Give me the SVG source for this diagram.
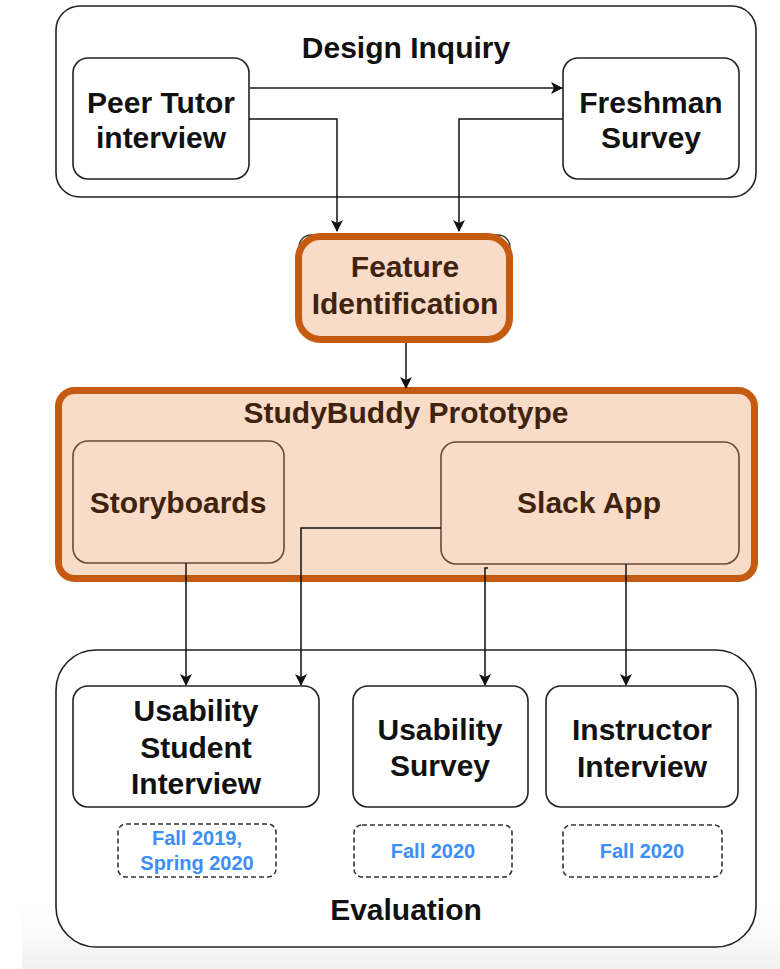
<svg xmlns="http://www.w3.org/2000/svg" width="780" height="969" viewBox="0 0 780 969">
  <defs>
    <linearGradient id="floorShade" x1="0" y1="0" x2="0" y2="1">
      <stop offset="0" stop-color="#ffffff"/>
      <stop offset="0.5" stop-color="#fbfbfb"/>
      <stop offset="1" stop-color="#f0f0f0"/>
    </linearGradient>
    <marker id="arrow" viewBox="0 0 12 12" refX="11" refY="6" markerWidth="12" markerHeight="12" markerUnits="userSpaceOnUse" orient="auto">
      <path d="M0,0 L12,6 L0,12 L3,6 z" fill="#111"/>
    </marker>
  </defs>
  <style>
    .lbl { font-family: "Liberation Sans", Arial, Helvetica, sans-serif; font-weight: bold; font-size: 30px; fill: #111; text-anchor: middle; }
    .brown { fill: #40230f; }
    .date { font-family: "Liberation Sans", Arial, Helvetica, sans-serif; font-weight: bold; font-size: 20px; fill: #3d8ef5; text-anchor: middle; }
    .group { fill: #ffffff; stroke: #222; stroke-width: 1.6; }
    .node { fill: #ffffff; stroke: #222; stroke-width: 1.6; }
    .hl { fill: #f9dcc8; stroke: #c55a11; stroke-width: 7; }
    .inner { fill: #f9dcc8; stroke: #6a4a38; stroke-width: 1.6; }
    .dashed { fill: none; stroke: #333; stroke-width: 1.6; stroke-dasharray: 5 3; }
    .wire { fill: none; stroke: #111; stroke-width: 1.5; }
  </style>

  <rect width="780" height="969" fill="#ffffff"/>
  <rect x="22" y="900" width="758" height="69" fill="url(#floorShade)"/>

  <!-- Design Inquiry group -->
  <g id="design-inquiry">
    <rect class="group" x="56" y="6" width="700" height="191" rx="24"/>
    <text class="lbl" x="406" y="58">Design Inquiry</text>
  </g>
  <g id="peer-tutor">
    <rect class="node" x="73" y="58" width="176" height="121" rx="15"/>
    <text class="lbl" x="161" y="113">Peer Tutor</text>
    <text class="lbl" x="161" y="148">interview</text>
  </g>
  <g id="freshman-survey">
    <rect class="node" x="563" y="58" width="176" height="121" rx="15"/>
    <text class="lbl" x="651" y="113">Freshman</text>
    <text class="lbl" x="651" y="148">Survey</text>
  </g>

  <!-- Feature Identification -->
  <g id="feature-identification">
    <rect x="299" y="235" width="211" height="98" rx="12" fill="none" stroke="#333" stroke-width="1.4"/>
    <rect class="hl" x="298.5" y="236.5" width="211" height="103" rx="22"/>
    <text class="lbl brown" x="405" y="277">Feature</text>
    <text class="lbl brown" x="405" y="314">Identification</text>
  </g>

  <!-- StudyBuddy Prototype group -->
  <g id="studybuddy-prototype">
    <rect class="hl" x="58.5" y="390.5" width="696" height="188" rx="16"/>
    <text class="lbl brown" x="406" y="423">StudyBuddy Prototype</text>
  </g>
  <g id="storyboards">
    <rect class="inner" x="73" y="441" width="211" height="122" rx="15"/>
    <text class="lbl brown" x="178" y="513">Storyboards</text>
  </g>
  <g id="slack-app">
    <rect class="inner" x="441" y="442" width="298" height="122" rx="15"/>
    <text class="lbl brown" x="589" y="513">Slack App</text>
  </g>

  <!-- Evaluation group -->
  <g id="evaluation">
    <rect class="group" x="56" y="650" width="700" height="297" rx="40"/>
    <text class="lbl" x="406" y="920">Evaluation</text>
  </g>
  <g id="usability-student-interview">
    <rect class="node" x="73" y="686" width="246" height="121" rx="15"/>
    <text class="lbl" x="196" y="721">Usability</text>
    <text class="lbl" x="196" y="758">Student</text>
    <text class="lbl" x="196" y="794">Interview</text>
  </g>
  <g id="usability-survey">
    <rect class="node" x="353" y="686" width="175" height="121" rx="15"/>
    <text class="lbl" x="440" y="740">Usability</text>
    <text class="lbl" x="440" y="776">Survey</text>
  </g>
  <g id="instructor-interview">
    <rect class="node" x="546" y="686" width="192" height="121" rx="15"/>
    <text class="lbl" x="642" y="740">Instructor</text>
    <text class="lbl" x="642" y="777">Interview</text>
  </g>
  <g id="date-student">
    <rect class="dashed" x="118" y="824" width="158" height="53" rx="8"/>
    <text class="date" x="197" y="845">Fall 2019,</text>
    <text class="date" x="197" y="870">Spring 2020</text>
  </g>
  <g id="date-survey">
    <rect class="dashed" x="354" y="825" width="158" height="52" rx="8"/>
    <text class="date" x="433" y="858">Fall 2020</text>
  </g>
  <g id="date-instructor">
    <rect class="dashed" x="563" y="825" width="159" height="52" rx="8"/>
    <text class="date" x="642" y="858">Fall 2020</text>
  </g>

  <!-- Connectors -->
  <g id="connectors">
    <path d="M249,88 H562" fill="none" stroke="#555" stroke-width="2.2" marker-end="url(#arrow)"/>
    <path class="wire" d="M249,119 H337 V231" marker-end="url(#arrow)"/>
    <path class="wire" d="M563,119 H459 V231" marker-end="url(#arrow)"/>
    <path class="wire" d="M406,343 V388" marker-end="url(#arrow)"/>
    <path class="wire" d="M186,563 V685" marker-end="url(#arrow)"/>
    <path class="wire" d="M441,528 H301 V685" marker-end="url(#arrow)"/>
    <path class="wire" d="M488,568 H485 V685" marker-end="url(#arrow)"/>
    <path class="wire" d="M626,564 V685" marker-end="url(#arrow)"/>
  </g>
</svg>
